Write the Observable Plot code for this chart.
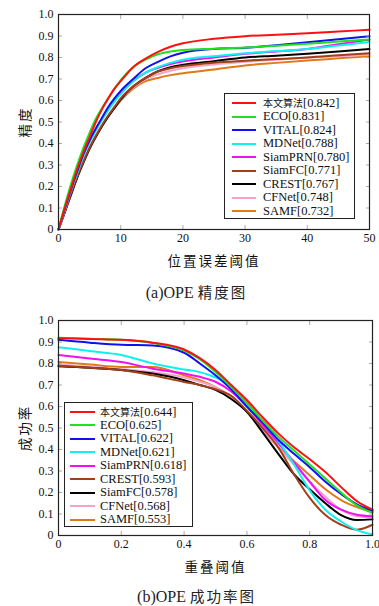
<!DOCTYPE html>
<html>
<head>
<meta charset="utf-8">
<script src="https://cdn.jsdelivr.net/npm/d3@7"></script>
<script src="https://cdn.jsdelivr.net/npm/@observablehq/plot@0.6"></script>
<style>
  html, body { margin: 0; padding: 0; background: #fff; }
  #root { position: relative; width: 379px; height: 606px; overflow: hidden; background: #fff; }
  .chart { position: absolute; left: 0; }
  .cap { position: absolute; left: 0; width: 379px; padding-left: 14px; box-sizing: border-box; text-align: center;
         font-family: "Liberation Serif", "Noto Sans CJK SC", serif; font-size: 16px; color: #222; }
  .cap .cjk { font-family: "Noto Sans CJK SC", sans-serif; font-size: 14.5px; letter-spacing: 2px; margin-left: 4px; }
  .legend { position: absolute; border: 1px solid #222; background: #fff; box-sizing: border-box;
            font-family: "Liberation Serif", serif; font-size: 12.5px; color: #111; }
  .legend .row { height: 13.5px; line-height: 13.5px; white-space: nowrap; display: flex; align-items: center; }
  .legend .sw { display: inline-block; height: 2.2px; }
  .legend .cjk { font-family: "Noto Sans CJK SC", sans-serif; font-size: 10px; }
  .chart g[aria-label="x-axis label"], .chart g[aria-label="y-axis label"] {
    font-family: "Noto Sans CJK SC", sans-serif; font-size: 13.5px; letter-spacing: 2px; }
</style>
</head>
<body>
<div id="root">
  <div id="c1" class="chart" style="top:0px"></div>
  <div class="cap" style="top:281px">(a)OPE<span class="cjk">精度图</span></div>
  <div id="c2" class="chart" style="top:306px"></div>
  <div class="cap" style="top:585px">(b)OPE<span class="cjk">成功率图</span></div>
  <div id="leg1" class="legend" style="left:224px;top:93px;width:131px;height:126px;padding-top:2.5px"></div>
  <div id="leg2" class="legend" style="left:64px;top:402px;width:129px;height:125px;padding-top:2px"></div>
</div>
<script>
// ---------- Precision plot (a) ----------
const precX = [0,1,2,3,4,5,6,7,8,9,10,12,14,16,18,20,25,30,35,40,45,50];
const precNames  = ["本文算法","ECO","VITAL","MDNet","SiamPRN","SiamFC","CREST","CFNet","SAMF"];
const precScores = ["0.842","0.831","0.824","0.788","0.780","0.771","0.767","0.748","0.732"];
const precOurs    = [0,0.10,0.19,0.28,0.36,0.43,0.50,0.56,0.61,0.655,0.69,0.755,0.795,0.826,0.85,0.866,0.887,0.899,0.906,0.913,0.921,0.929];
const precECO     = [0,0.11,0.21,0.30,0.38,0.45,0.515,0.565,0.61,0.655,0.695,0.755,0.79,0.815,0.828,0.835,0.841,0.846,0.855,0.864,0.874,0.884];
const precVITAL   = [0,0.095,0.185,0.27,0.35,0.415,0.47,0.52,0.57,0.61,0.645,0.70,0.75,0.78,0.805,0.822,0.84,0.845,0.857,0.871,0.885,0.899];
const precMDNet   = [0,0.09,0.18,0.26,0.34,0.405,0.46,0.51,0.555,0.595,0.63,0.69,0.73,0.755,0.775,0.79,0.806,0.82,0.83,0.84,0.856,0.872];
const precSiamPRN = [0,0.09,0.18,0.265,0.345,0.41,0.465,0.515,0.56,0.60,0.635,0.69,0.73,0.752,0.77,0.782,0.80,0.817,0.828,0.84,0.862,0.883];
const precSiamFC  = [0,0.08,0.165,0.245,0.315,0.38,0.435,0.485,0.53,0.57,0.61,0.665,0.705,0.735,0.75,0.76,0.776,0.785,0.793,0.80,0.81,0.82];
const precCREST   = [0,0.08,0.16,0.24,0.31,0.375,0.43,0.48,0.525,0.565,0.605,0.665,0.705,0.736,0.755,0.766,0.783,0.80,0.808,0.817,0.828,0.84];
const precCFNet   = [0,0.08,0.165,0.245,0.315,0.38,0.435,0.485,0.53,0.57,0.605,0.66,0.70,0.722,0.738,0.75,0.767,0.78,0.79,0.80,0.806,0.813];
const precSAMF    = [0,0.085,0.165,0.245,0.315,0.38,0.435,0.485,0.53,0.565,0.60,0.655,0.69,0.705,0.718,0.727,0.744,0.763,0.775,0.786,0.796,0.806];
const precXTicks = [0,10,20,30,40,50];

// ---------- Success plot (b) ----------
const succX = [0,0.1,0.2,0.3,0.4,0.45,0.5,0.55,0.6,0.65,0.7,0.75,0.8,0.85,0.9,0.95,1.0];
const succNames  = ["本文算法","ECO","VITAL","MDNet","SiamPRN","CREST","SiamFC","CFNet","SAMF"];
const succScores = ["0.644","0.625","0.622","0.621","0.618","0.593","0.578","0.568","0.553"];
const succOurs    = [0.918,0.914,0.91,0.897,0.865,0.825,0.77,0.70,0.63,0.55,0.475,0.41,0.355,0.295,0.225,0.16,0.12];
const succECO     = [0.92,0.915,0.91,0.895,0.86,0.82,0.76,0.69,0.615,0.535,0.46,0.395,0.33,0.265,0.20,0.14,0.105];
const succVITAL   = [0.91,0.897,0.887,0.884,0.85,0.80,0.745,0.68,0.60,0.525,0.445,0.38,0.318,0.25,0.193,0.145,0.116];
const succMDNet   = [0.876,0.858,0.84,0.80,0.772,0.76,0.735,0.695,0.62,0.53,0.44,0.33,0.21,0.12,0.065,0.025,0.005];
const succSiamPRN = [0.84,0.823,0.807,0.776,0.753,0.738,0.715,0.67,0.60,0.515,0.43,0.34,0.25,0.165,0.12,0.097,0.09];
const succCREST   = [0.79,0.78,0.77,0.745,0.714,0.70,0.68,0.65,0.58,0.50,0.41,0.285,0.175,0.095,0.05,0.027,0.05];
const succSiamFC  = [0.787,0.78,0.77,0.753,0.722,0.70,0.677,0.635,0.575,0.48,0.38,0.285,0.215,0.15,0.095,0.072,0.075];
const succCFNet   = [0.795,0.785,0.775,0.76,0.735,0.715,0.69,0.645,0.575,0.49,0.41,0.33,0.25,0.18,0.12,0.09,0.085];
const succSAMF    = [0.807,0.795,0.784,0.784,0.745,0.722,0.69,0.645,0.575,0.49,0.41,0.345,0.28,0.215,0.165,0.132,0.109];
const succXTicks = [0,0.2,0.4,0.6,0.8,1.0];

const yTicks = [0,0.1,0.2,0.3,0.4,0.5,0.6,0.7,0.8,0.9,1.0];
const lineColors = ["#ff1010","#20e020","#1010f0","#10f0f0","#f010f0","#a0401a","#000000","#f7a3c8","#e07a18"];

const fmt1 = d => d === 0 ? "0" : d.toFixed(1);

function chart({xs, series, names, xDomain, xTicks, xFmt, xLabel, yLabel, marginRight}) {
  const data = series.flatMap((vals, i) => vals.map((v, j) => ({x: xs[j], y: v, name: names[i], order: i})));
  const drawOrder = d3.sort(data, d => -d.order);
  return Plot.plot({
    width: 379, height: 270,
    marginTop: 14, marginBottom: 41, marginLeft: 58, marginRight,
    style: {fontFamily: "'Liberation Serif', serif", fontSize: "12px", color: "#111", background: "#fff"},
    x: {domain: xDomain},
    y: {domain: [0, 1]},
    color: {domain: names, range: lineColors},
    marks: [
      Plot.line(drawOrder, {x: "x", y: "y", z: "name", stroke: "name", strokeWidth: 2, curve: "monotone-x"}),
      Plot.axisX({anchor: "bottom", ticks: xTicks, tickFormat: xFmt, tickSize: -4, tickPadding: 8, stroke: "#aaa", fill: "#111",
                  label: xLabel, labelAnchor: "center", labelOffset: 36, labelArrow: "none"}),
      Plot.axisX({anchor: "top", ticks: xTicks, tickFormat: () => "", tickSize: -4, stroke: "#aaa", label: null}),
      Plot.axisY({anchor: "left", ticks: yTicks, tickFormat: fmt1, tickSize: -4, tickPadding: 9, stroke: "#aaa", fill: "#111",
                  label: yLabel, labelAnchor: "center", labelOffset: 38, labelArrow: "none"}),
      Plot.axisY({anchor: "right", ticks: yTicks, tickFormat: () => "", tickSize: -4, stroke: "#aaa", label: null}),
      Plot.frame({stroke: "#222", strokeWidth: 1.2})
    ]
  });
}

function legend(el, names, scores, swLeft, swWidth, gap) {
  names.forEach((n, i) => {
    const row = document.createElement("div");
    row.className = "row";
    const sw = document.createElement("span");
    sw.className = "sw";
    sw.style.background = lineColors[i];
    sw.style.width = swWidth + "px";
    sw.style.marginLeft = swLeft + "px";
    sw.style.marginRight = gap + "px";
    row.appendChild(sw);
    const t = document.createElement("span");
    if (/[\u4e00-\u9fff]/.test(n)) {
      const c = document.createElement("span"); c.className = "cjk"; c.textContent = n; t.appendChild(c);
    } else t.appendChild(document.createTextNode(n));
    t.appendChild(document.createTextNode("[" + scores[i] + "]"));
    row.appendChild(t);
    el.appendChild(row);
  });
}

document.getElementById("c1").appendChild(chart({
  xs: precX,
  series: [precOurs, precECO, precVITAL, precMDNet, precSiamPRN, precSiamFC, precCREST, precCFNet, precSAMF],
  names: precNames, xDomain: [0, 50], xTicks: precXTicks, xFmt: d => String(d),
  xLabel: "位置误差阈值", yLabel: "精度", marginRight: 10
}));
document.getElementById("c2").appendChild(chart({
  xs: succX,
  series: [succOurs, succECO, succVITAL, succMDNet, succSiamPRN, succCREST, succSiamFC, succCFNet, succSAMF],
  names: succNames, xDomain: [0, 1], xTicks: succXTicks, xFmt: fmt1,
  xLabel: "重叠阈值", yLabel: "成功率", marginRight: 7
}));
legend(document.getElementById("leg1"), precNames, precScores, 7, 24, 7);
legend(document.getElementById("leg2"), succNames, succScores, 5, 25, 5);
</script>
</body>
</html>
